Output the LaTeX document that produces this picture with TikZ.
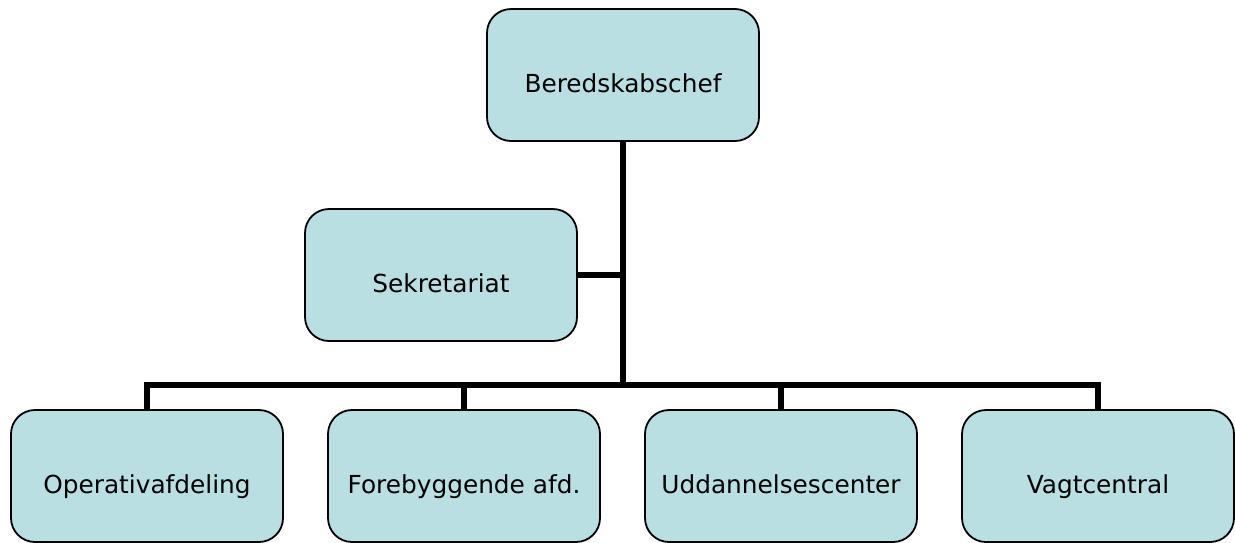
\documentclass[tikz,border=0pt]{standalone}
\usepackage{fontspec}
\setmainfont{DejaVu Sans}
\usepackage{tikz}
\usetikzlibrary{positioning}
\definecolor{boxfill}{HTML}{B9DFE2}

\begin{document}
\begin{tikzpicture}[x=0.5pt, y=-0.5pt,
        every node/.style={rectangle, rounded corners=12pt, draw, line width=0.9pt, fill=boxfill,
            minimum width=136pt, minimum height=66pt, inner sep=0pt, font=\fontsize{12.4}{14}\selectfont,
            text height=17pt, text depth=0pt},
        link/.style={line width=2.6pt}]
        \useasboundingbox (0,0) rectangle (1235,542);
        \node (chef) at (623,75) {Beredskabschef};
        \node (sek) at (441,275) {Sekretariat};
        \node (op) at (147,476) {Operativafdeling};
        \node (fo) at (464,476) {Forebyggende afd.};
        \node (ud) at (781,476) {Uddannelsescenter};
        \node (va) at (1098,476) {Vagtcentral};
        \coordinate (bus) at (623,385);
        \draw[link] (chef) -- (bus);
        \draw[link] (sek.east) -- (sek.east -| chef.south);
        \draw[link] (bus) -| (op.north);
        \draw[link] (bus) -| (fo.north);
        \draw[link] (bus) -| (ud.north);
        \draw[link] (bus) -| (va.north);
    \end{tikzpicture}
\end{document}
